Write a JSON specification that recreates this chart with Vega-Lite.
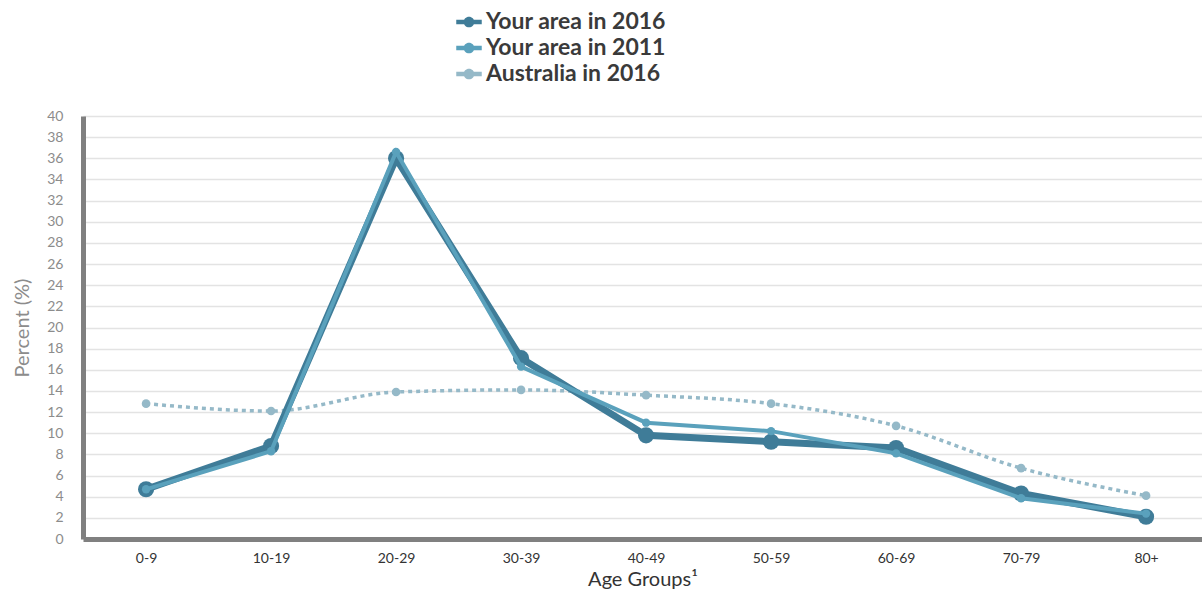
{
  "$schema": "https://vega.github.io/schema/vega-lite/v6.json",
  "autosize": "none",
  "width": 1119,
  "height": 423,
  "padding": {"left": 83, "top": 116, "right": 0, "bottom": 56},
  "background": "white",
  "config": {
    "font": "Lato",
    "view": {"stroke": null}
  },
  "data": {
    "values": [
      {"age": "0-9", "series": "Your area in 2016", "pct": 4.7},
      {"age": "10-19", "series": "Your area in 2016", "pct": 8.8},
      {"age": "20-29", "series": "Your area in 2016", "pct": 36.0},
      {"age": "30-39", "series": "Your area in 2016", "pct": 17.1},
      {"age": "40-49", "series": "Your area in 2016", "pct": 9.8},
      {"age": "50-59", "series": "Your area in 2016", "pct": 9.2},
      {"age": "60-69", "series": "Your area in 2016", "pct": 8.6},
      {"age": "70-79", "series": "Your area in 2016", "pct": 4.3},
      {"age": "80+", "series": "Your area in 2016", "pct": 2.1},
      {"age": "0-9", "series": "Your area in 2011", "pct": 4.7},
      {"age": "10-19", "series": "Your area in 2011", "pct": 8.3},
      {"age": "20-29", "series": "Your area in 2011", "pct": 36.6},
      {"age": "30-39", "series": "Your area in 2011", "pct": 16.3},
      {"age": "40-49", "series": "Your area in 2011", "pct": 11.0},
      {"age": "50-59", "series": "Your area in 2011", "pct": 10.2},
      {"age": "60-69", "series": "Your area in 2011", "pct": 8.1},
      {"age": "70-79", "series": "Your area in 2011", "pct": 3.85},
      {"age": "80+", "series": "Your area in 2011", "pct": 2.4},
      {"age": "0-9", "series": "Australia in 2016", "pct": 12.8},
      {"age": "10-19", "series": "Australia in 2016", "pct": 12.1},
      {"age": "20-29", "series": "Australia in 2016", "pct": 13.9},
      {"age": "30-39", "series": "Australia in 2016", "pct": 14.1},
      {"age": "40-49", "series": "Australia in 2016", "pct": 13.6},
      {"age": "50-59", "series": "Australia in 2016", "pct": 12.8},
      {"age": "60-69", "series": "Australia in 2016", "pct": 10.7},
      {"age": "70-79", "series": "Australia in 2016", "pct": 6.7},
      {"age": "80+", "series": "Australia in 2016", "pct": 4.1}
    ]
  },
  "encoding": {
    "x": {
      "field": "age", "type": "ordinal", "sort": null,
      "scale": {"type": "point", "padding": 0.476, "align": 0.53},
      "axis": {
        "title": "Age Groups¹", "labelAngle": 0, "ticks": false,
        "domainColor": "#808080", "domainWidth": 5,
        "labelColor": "#333333", "labelFontSize": 14, "labelPadding": 12,
        "titleColor": "#333333", "titleFontSize": 20, "titleFontWeight": "normal", "titlePadding": 4
      }
    },
    "y": {
      "field": "pct", "type": "quantitative",
      "scale": {"domain": [0, 40], "nice": false},
      "axis": {
        "title": "Percent (%)", "values": [0,2,4,6,8,10,12,14,16,18,20,22,24,26,28,30,32,34,36,38,40],
        "ticks": false, "domainColor": "#808080", "domainWidth": 5,
        "grid": true, "gridColor": "#e3e3e3", "gridWidth": 1.5,
        "labelColor": "#8c8c8c", "labelFontSize": 14, "labelPadding": 20,
        "titleColor": "#8c8c8c", "titleFontSize": 20, "titleFontWeight": "normal", "titlePadding": 14
      }
    },
    "color": {
      "field": "series", "type": "nominal",
      "scale": {"domain": ["Your area in 2016", "Your area in 2011", "Australia in 2016"], "range": ["#3f7c98", "#5aa1bc", "#95b9c8"]},
      "legend": {
        "title": null, "orient": "none", "legendX": 373, "legendY": -107, "direction": "vertical",
        "labelFontSize": 23, "labelFontWeight": "bold", "labelColor": "#3a3a3a", "labelLimit": 0,
        "symbolType": "M-1,-0.17H1V0.17H-1Z M0.42,0A0.42,0.42 0 1,1 -0.42,0A0.42,0.42 0 1,1 0.42,0Z",
        "symbolSize": 650, "symbolStrokeWidth": 0, "rowPadding": 1, "labelOffset": 4
      }
    }
  },
  "layer": [
    {
      "transform": [{"filter": "datum.series == 'Australia in 2016'"}],
      "mark": {"type": "point", "filled": true, "opacity": 1, "size": 75}
    },
    {
      "transform": [{"filter": "datum.series == 'Australia in 2016'"}],
      "mark": {"type": "line", "strokeWidth": 3.5, "strokeDash": [4, 4], "interpolate": "monotone"}
    },
    {
      "transform": [{"filter": "datum.series == 'Your area in 2016'"}],
      "mark": {"type": "line", "strokeWidth": 7}
    },
    {
      "transform": [{"filter": "datum.series == 'Your area in 2016'"}],
      "mark": {"type": "point", "filled": true, "opacity": 1, "size": 260}
    },
    {
      "transform": [{"filter": "datum.series == 'Your area in 2011'"}],
      "mark": {"type": "line", "strokeWidth": 4}
    },
    {
      "transform": [{"filter": "datum.series == 'Your area in 2011'"}],
      "mark": {"type": "point", "filled": true, "opacity": 1, "size": 70}
    }
  ]
}
